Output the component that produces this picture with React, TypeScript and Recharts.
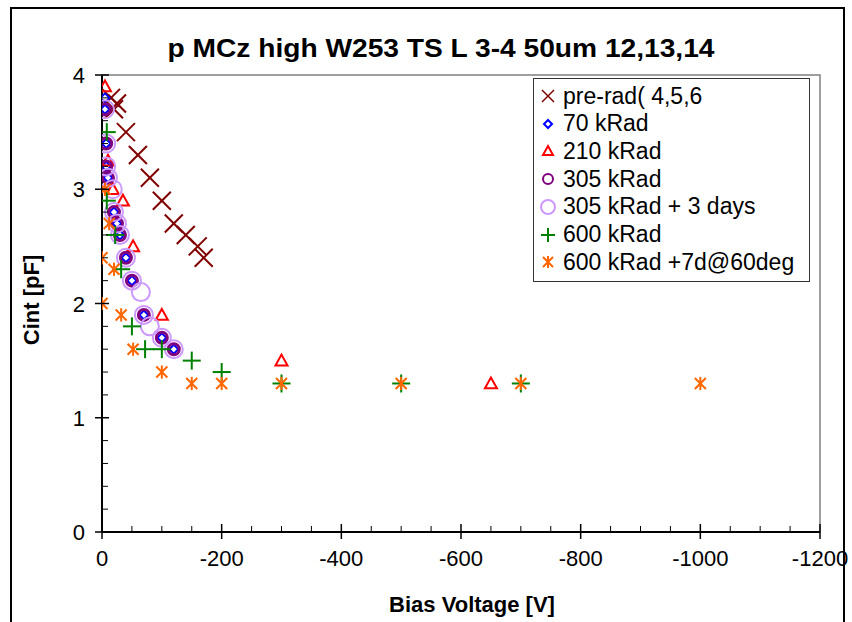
import React from "react";
import { ScatterChart, Scatter, XAxis, YAxis, ReferenceArea } from "recharts";

// Cint vs bias voltage
const preRad = [
  { v: -15, c: 3.8 }, { v: -25, c: 3.75 }, { v: -20, c: 3.7 }, { v: -40, c: 3.5 },
  { v: -60, c: 3.3 }, { v: -80, c: 3.1 }, { v: -100, c: 2.9 }, { v: -120, c: 2.7 },
  { v: -140, c: 2.6 }, { v: -160, c: 2.5 }, { v: -170, c: 2.4 },
];
const kRad70 = [
  { v: -5, c: 3.8 }, { v: -5, c: 3.7 }, { v: -7, c: 3.4 }, { v: -7, c: 3.2 },
  { v: -10, c: 3.1 }, { v: -20, c: 2.8 }, { v: -25, c: 2.7 }, { v: -30, c: 2.6 },
  { v: -40, c: 2.4 }, { v: -50, c: 2.2 }, { v: -70, c: 1.9 }, { v: -100, c: 1.7 },
  { v: -120, c: 1.6 },
];
const kRad210 = [
  { v: -5, c: 3.9 }, { v: -10, c: 3.25 }, { v: -18, c: 3.0 }, { v: -35, c: 2.9 },
  { v: -52, c: 2.5 }, { v: -100, c: 1.9 }, { v: -300, c: 1.5 }, { v: -650, c: 1.3 },
];
const kRad305 = [
  { v: -5, c: 3.7 }, { v: -7, c: 3.4 }, { v: -7, c: 3.2 }, { v: -10, c: 3.1 },
  { v: -20, c: 2.8 }, { v: -25, c: 2.7 }, { v: -30, c: 2.6 }, { v: -40, c: 2.4 },
  { v: -50, c: 2.2 }, { v: -70, c: 1.9 }, { v: -100, c: 1.7 }, { v: -120, c: 1.6 },
];
const kRad305days = [
  { v: -5, c: 3.7 }, { v: -7, c: 3.4 }, { v: -7, c: 3.2 }, { v: -10, c: 3.1 },
  { v: -18, c: 3.0 }, { v: -20, c: 2.8 }, { v: -25, c: 2.7 }, { v: -30, c: 2.6 },
  { v: -40, c: 2.4 }, { v: -50, c: 2.2 }, { v: -65, c: 2.1 }, { v: -70, c: 1.9 },
  { v: -80, c: 1.8 }, { v: -100, c: 1.7 }, { v: -120, c: 1.6 },
];
const kRad600 = [
  { v: -8, c: 3.5 }, { v: -8, c: 2.9 }, { v: -22, c: 2.6 }, { v: -32, c: 2.3 },
  { v: -50, c: 1.8 }, { v: -72, c: 1.6 }, { v: -100, c: 1.6 }, { v: -150, c: 1.5 },
  { v: -200, c: 1.4 }, { v: -300, c: 1.3 }, { v: -500, c: 1.3 }, { v: -700, c: 1.3 },
];
const kRad600hot = [
  { v: 0, c: 2.0 }, { v: 0, c: 2.4 }, { v: -5, c: 3.0 }, { v: -12, c: 2.7 },
  { v: -20, c: 2.3 }, { v: -32, c: 1.9 }, { v: -52, c: 1.6 }, { v: -100, c: 1.4 },
  { v: -150, c: 1.3 }, { v: -200, c: 1.3 }, { v: -300, c: 1.3 }, { v: -500, c: 1.3 },
  { v: -700, c: 1.3 }, { v: -1000, c: 1.3 },
];

const xTicks = [0, -50, -100, -150, -200, -250, -300, -350, -400, -450, -500, -550, -600,
  -650, -700, -750, -800, -850, -900, -950, -1000, -1050, -1100, -1150, -1200];
const yTicks = [0, 0.2, 0.4, 0.6, 0.8, 1, 1.2, 1.4, 1.6, 1.8, 2, 2.2, 2.4, 2.6, 2.8, 3,
  3.2, 3.4, 3.6, 3.8, 4];

const FONT = "Arial, 'Liberation Sans', sans-serif";

const xMark = (k: number, color: string, w: number) => ({ cx, cy }: any) => (
  <g stroke={color} strokeWidth={w}>
    <line x1={cx - k} y1={cy - k} x2={cx + k} y2={cy + k} />
    <line x1={cx - k} y1={cy + k} x2={cx + k} y2={cy - k} />
  </g>
);
const diamond = (k: number) => ({ cx, cy }: any) => (
  <polygon points={`${cx},${cy - k} ${cx + k},${cy} ${cx},${cy + k} ${cx - k},${cy}`}
    fill="#fff" stroke="#0000ff" strokeWidth={2} />
);
const triangle = (k: number) => ({ cx, cy }: any) => (
  <polygon points={`${cx},${cy - k} ${cx + k},${cy + k * 0.8} ${cx - k},${cy + k * 0.8}`}
    fill="none" stroke="#ff0000" strokeWidth={2} />
);
const ring = (r: number, color: string, w: number) => ({ cx, cy }: any) => (
  <circle cx={cx} cy={cy} r={r} fill="none" stroke={color} strokeWidth={w} />
);
const plus = (k: number) => ({ cx, cy }: any) => (
  <g stroke="#008000" strokeWidth={2}>
    <line x1={cx - k} y1={cy} x2={cx + k} y2={cy} />
    <line x1={cx} y1={cy - k} x2={cx} y2={cy + k} />
  </g>
);
const star = (k: number) => ({ cx, cy }: any) => (
  <g stroke="#ff6600" strokeWidth={2}>
    <line x1={cx - k} y1={cy - k} x2={cx + k} y2={cy + k} />
    <line x1={cx - k} y1={cy + k} x2={cx + k} y2={cy - k} />
    <line x1={cx} y1={cy - k * 1.2} x2={cx} y2={cy + k * 1.2} />
  </g>
);

const legendRows = [
  { name: "pre-rad( 4,5,6", mark: xMark(6, "#800000", 1.5) },
  { name: "70 kRad", mark: diamond(4) },
  { name: "210 kRad", mark: triangle(5) },
  { name: "305 kRad", mark: ring(5, "#800080", 2) },
  { name: "305 kRad + 3 days", mark: ring(7, "#cc99ff", 2) },
  { name: "600 kRad", mark: plus(7) },
  { name: "600 kRad +7d@60deg", mark: star(5) },
];

const XTick = ({ x, y, payload }: any) => {
  const v = payload.value;
  const major = v % 200 === 0;
  return (
    <g>
      {major ? (
        <line x1={x} x2={x} y1={y - 8} y2={y + 7} stroke="#000" strokeWidth={1.5} />
      ) : (
        <line x1={x} x2={x} y1={y - 6} y2={y} stroke="#000" strokeWidth={1} />
      )}
      {major && (
        <text x={x} y={y + 34} textAnchor="middle" fontSize={22} fontFamily={FONT} fill="#000">
          {v}
        </text>
      )}
    </g>
  );
};

const YTick = ({ x, y, payload }: any) => {
  const v = payload.value;
  const major = Math.abs(v - Math.round(v)) < 1e-6;
  return (
    <g>
      {major ? (
        <line x1={x - 7} x2={x + 7} y1={y} y2={y} stroke="#000" strokeWidth={1.5} />
      ) : (
        <line x1={x} x2={x + 6} y1={y} y2={y} stroke="#000" strokeWidth={1} />
      )}
      {major && (
        <text x={x - 17} y={y + 8} textAnchor="end" fontSize={22} fontFamily={FONT} fill="#000">
          {Math.round(v)}
        </text>
      )}
    </g>
  );
};

const LegendBox = () => (
  <div style={{ position: "absolute", left: 533, top: 78, width: 277, height: 204, border: "1.5px solid #333", boxSizing: "border-box", background: "#fff" }}>
    {legendRows.map((r, i) => (
      <div key={i} style={{ position: "absolute", left: 0, top: 3 + i * 27.7, height: 28, display: "flex", alignItems: "center" }}>
        <svg width={29} height={28} style={{ display: "block" }}>
          {r.mark({ cx: 14, cy: 14 })}
        </svg>
        <span style={{ fontFamily: FONT, fontSize: 23, color: "#000", whiteSpace: "nowrap" }}>{r.name}</span>
      </div>
    ))}
  </div>
);

export default function App() {
  return (
    <div style={{ position: "absolute", left: 0, top: 0, width: 852, height: 622, background: "#fff", overflow: "hidden" }}>
      <div style={{ position: "absolute", left: 10, top: 7, width: 835, height: 640, border: "2px solid #000", boxSizing: "border-box" }} />
      <div style={{ position: "absolute", left: 0, top: 0 }}>
        <ScatterChart width={852} height={622} margin={{ top: 75, right: 32, bottom: 0, left: 0 }}>
          <ReferenceArea x1={-1200} x2={0} y1={0} y2={4} fill="none" stroke="#808080" strokeWidth={1.5} ifOverflow="visible" />
          <XAxis type="number" dataKey="v" domain={[-1200, 0]} reversed ticks={xTicks} interval={0}
            height={90} tickSize={0} tickMargin={0} tick={XTick} tickLine={false}
            axisLine={{ stroke: "#000", strokeWidth: 2 }} allowDataOverflow />
          <YAxis type="number" dataKey="c" domain={[0, 4]} ticks={yTicks} interval={0}
            width={102} tickSize={0} tickMargin={0} tick={YTick} tickLine={false}
            axisLine={{ stroke: "#000", strokeWidth: 2 }} allowDataOverflow />
          <Scatter name="pre-rad( 4,5,6" data={preRad} shape={xMark(9, "#800000", 2)} isAnimationActive={false} />
          <Scatter name="70 kRad" data={kRad70} shape={diamond(4.5)} isAnimationActive={false} />
          <Scatter name="210 kRad" data={kRad210} shape={triangle(6)} isAnimationActive={false} />
          <Scatter name="305 kRad" data={kRad305} shape={ring(5.5, "#800080", 3)} isAnimationActive={false} />
          <Scatter name="305 kRad + 3 days" data={kRad305days} shape={ring(9, "#cc99ff", 2)} isAnimationActive={false} />
          <Scatter name="600 kRad" data={kRad600} shape={plus(9)} isAnimationActive={false} />
          <Scatter name="600 kRad +7d@60deg" data={kRad600hot} shape={star(5.5)} isAnimationActive={false} />
        </ScatterChart>
      </div>
      <LegendBox />
      <svg width={852} height={622} style={{ position: "absolute", left: 0, top: 0, pointerEvents: "none" }}>
        <text x={441} y={57} textAnchor="middle" fontSize={26} fontWeight="bold" fontFamily={FONT}
          textLength={547} lengthAdjust="spacingAndGlyphs">
          p MCz high W253 TS L 3-4 50um 12,13,14
        </text>
        <text x={472} y={612} textAnchor="middle" fontSize={22} fontWeight="bold" fontFamily={FONT}>
          Bias Voltage [V]
        </text>
        <text x={0} y={0} transform="translate(39,300) rotate(-90)" textAnchor="middle" fontSize={22}
          fontWeight="bold" fontFamily={FONT}>
          Cint [pF]
        </text>
      </svg>
    </div>
  );
}
